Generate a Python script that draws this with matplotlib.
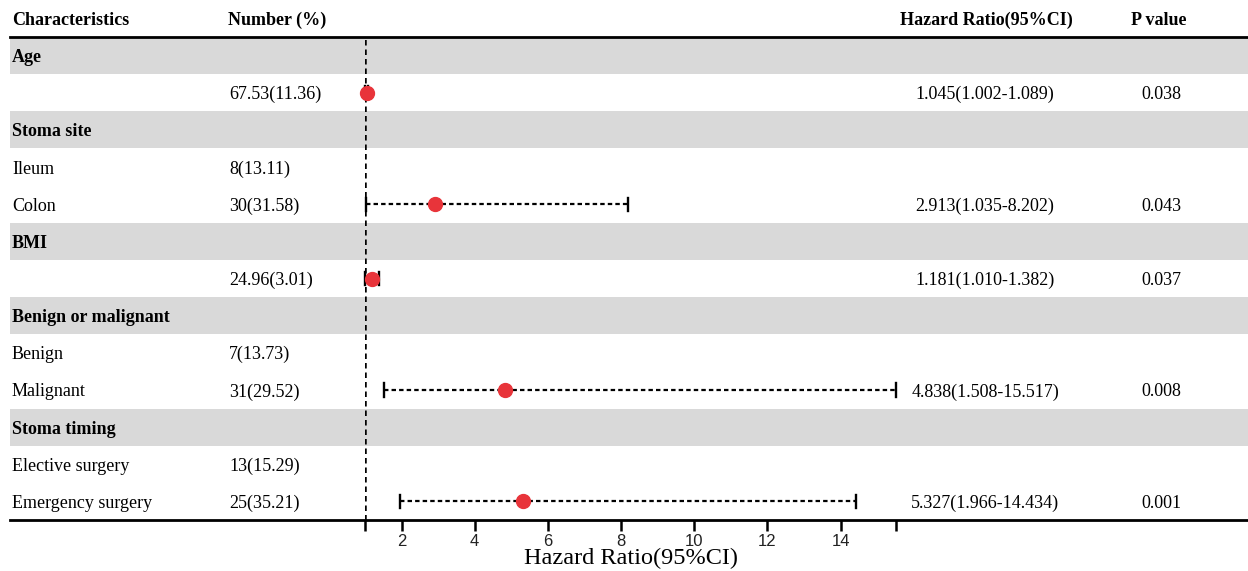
import matplotlib
matplotlib.use("Agg")
import matplotlib.pyplot as plt
from matplotlib.patches import Rectangle

# ---------------- data ----------------
row_labels = ["Age", "", "Stoma site", "Ileum", "Colon", "BMI", "",
              "Benign or malignant", "Benign", "Malignant", "Stoma timing",
              "Elective surgery", "Emergency surgery"]
row_is_header = [True, False, True, False, False, True, False,
                 True, False, False, True, False, False]
number_text = ["", "67.53(11.36)", "", "8(13.11)", "30(31.58)", "", "24.96(3.01)",
               "", "7(13.73)", "31(29.52)", "", "13(15.29)", "25(35.21)"]
# rows that carry an estimate (index into rows)
est_rows = [1, 4, 6, 9, 12]
hr = [1.045, 2.913, 1.181, 4.838, 5.327]
ci_low = [1.002, 1.035, 1.010, 1.508, 1.966]
ci_high = [1.089, 8.202, 1.382, 15.517, 14.434]
p_values = ["0.038", "0.043", "0.037", "0.008", "0.001"]
tick_values = [1, 2, 4, 6, 8, 10, 12, 14, 15.517]
tick_labels = ["", "2", "4", "6", "8", "10", "12", "14", ""]
col_headers = ["Characteristics", "Number (%)", "Hazard Ratio(95%CI)", "P value"]
x_label = "Hazard Ratio(95%CI)"

# ---------------- layout ----------------
W, H = 1248, 571
fig = plt.figure(figsize=(W / 100, H / 100), dpi=100)
serif = "Liberation Serif"
sans = "Liberation Sans"

top_px, bot_px = 37, 520
left_px, right_px = 10, 1248
n = len(row_labels)

ax_t = fig.add_axes([left_px / W, 1 - bot_px / H, (right_px - left_px) / W, (bot_px - top_px) / H])
ax_t.set_xlim(left_px, right_px)
ax_t.set_ylim(n, 0)
ax_t.axis("off")

f_left, f_right = 365, 896
ax_f = fig.add_axes([f_left / W, 1 - bot_px / H, (f_right - f_left) / W, (bot_px - top_px) / H])
ax_f.set_xlim(tick_values[0], tick_values[-1])
ax_f.set_ylim(n, 0)
ax_f.patch.set_alpha(0)
for s in ["top", "right", "left", "bottom"]:
    ax_f.spines[s].set_visible(False)
ax_f.set_yticks([])
ax_f.set_xticks(tick_values)
ax_f.set_xticklabels(tick_labels, fontfamily=sans, fontsize=12, color="#222222")
ax_f.tick_params(axis="x", direction="out", length=8, width=1.8, pad=2, color="black")
ax_f.set_xlabel(x_label, fontfamily=serif, fontsize=17.5, labelpad=-1)

grey = "#d9d9d9"
fs = 13
va = "center_baseline"
# shaded header rows + row text
for i, (lab, hdr, num) in enumerate(zip(row_labels, row_is_header, number_text)):
    if hdr:
        ax_t.add_patch(Rectangle((left_px, i), right_px - left_px, 1, facecolor=grey,
                                 edgecolor="none", zorder=0))
    if lab:
        ax_t.text(12, i + 0.5, lab, ha="left", va=va, fontfamily=serif,
                  fontsize=fs, fontweight="bold" if hdr else "normal")
    if num:
        ax_t.text(229, i + 0.5, num, ha="left", va=va, fontfamily=serif, fontsize=fs)

# header texts
hdr_y = -0.5
ax_t.text(12, hdr_y, col_headers[0], ha="left", va=va, fontfamily=serif,
          fontsize=fs, fontweight="bold", clip_on=False)
ax_t.text(228, hdr_y, col_headers[1], ha="left", va=va, fontfamily=serif,
          fontsize=fs, fontweight="bold", clip_on=False)
ax_t.text(986, hdr_y, col_headers[2], ha="center", va=va, fontfamily=serif,
          fontsize=fs, fontweight="bold", clip_on=False)
ax_t.text(1159, hdr_y, col_headers[3], ha="center", va=va, fontfamily=serif,
          fontsize=fs, fontweight="bold", clip_on=False)

# horizontal rules
ax_t.plot([left_px, right_px], [0, 0], color="black", lw=2, clip_on=False, zorder=3)
ax_t.plot([left_px, right_px], [n, n], color="black", lw=2, clip_on=False, zorder=3)

# estimates text
for r, h, lo, hi, p in zip(est_rows, hr, ci_low, ci_high, p_values):
    ax_t.text(985, r + 0.5, f"{h:.3f}({lo:.3f}-{hi:.3f})", ha="center", va=va,
              fontfamily=serif, fontsize=fs)
    ax_t.text(1161, r + 0.5, p, ha="center", va=va, fontfamily=serif, fontsize=fs)

# reference line
ax_f.axvline(1, color="black", lw=1.8, linestyle=(0, (2.2, 1.6)), zorder=2)

# forest marks
red = "#e8343a"
for r, h, lo, hi in zip(est_rows, hr, ci_low, ci_high):
    y = r + 0.5
    ax_f.plot([lo, hi], [y, y], color="black", lw=1.6, linestyle=(0, (2.0, 1.4)), zorder=3,
              clip_on=False)
    for xc in (lo, hi):
        ax_f.plot([xc, xc], [y - 0.18, y + 0.18], color="black", lw=1.7, zorder=3,
                  clip_on=False)
    ax_f.plot([h], [y], marker="o", markersize=10, color=red, markeredgecolor=red,
              zorder=4, clip_on=False)

fig.savefig("out.png", dpi=100)
